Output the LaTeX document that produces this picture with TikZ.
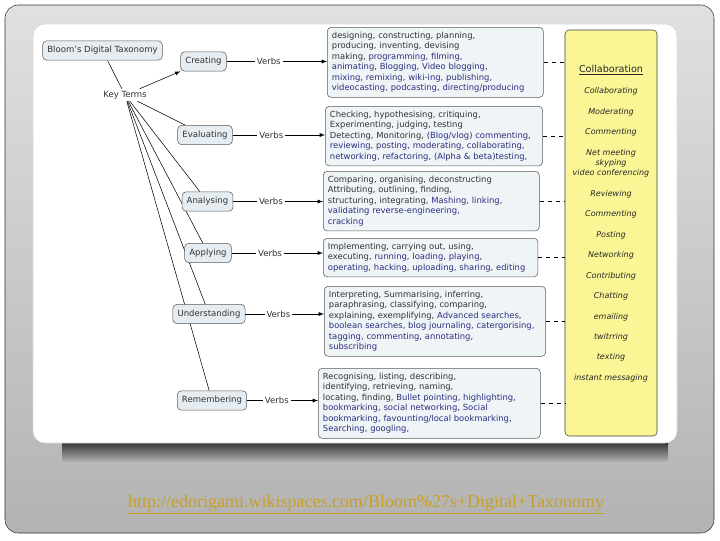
\documentclass[tikz,border=0pt]{standalone}
\usepackage{fontspec}
\setmainfont{DejaVu Sans}
\newfontfamily\urlfont{Liberation Serif}

\definecolor{boxline}{RGB}{90,90,90}
\definecolor{termfill}{RGB}{230,237,242}
\definecolor{verbfill}{RGB}{239,244,247}
\definecolor{darktxt}{RGB}{50,50,50}
\definecolor{bluetxt}{RGB}{45,45,125}
\definecolor{collfill}{RGB}{250,246,150}
\definecolor{linkcol}{RGB}{200,160,40}

\pgfdeclarelayer{back}
\pgfdeclarelayer{links}
\pgfsetlayers{back,links,main}

\newcommand{\blu}[1]{\textcolor{bluetxt}{#1}}

\tikzset{
  term/.style={draw=boxline, fill=termfill, rounded corners=3pt, inner xsep=3.5pt, minimum height=14.5pt, font=\fontsize{6.4pt}{7.5pt}\selectfont, text=darktxt},
  verbbox/.style={draw=boxline, fill=verbfill, rounded corners=3pt, anchor=north west, align=left, inner xsep=3.5pt, inner ysep=3.5pt, font=\fontsize{6.3pt}{7.9pt}\selectfont, text=darktxt},
  lbl/.style={fill=white, inner sep=1.5pt, font=\fontsize{6.4pt}{7.5pt}\selectfont, text=darktxt},
  yitem/.style={font=\fontsize{6pt}{7.5pt}\selectfont\itshape, text=black!85},
}

\begin{document}
\begin{tikzpicture}[x=0.75pt,y=0.75pt,yscale=-1.0,xscale=1.0]
\useasboundingbox (0,0) rectangle (720,540);

% slide and picture panel
\begin{pgfonlayer}{back}
\shade[top color=black!12, bottom color=black!30, draw=black!80, rounded corners=10pt] (5,5) rectangle (714,533);
\shade[top color=black!78, bottom color=black!32] (62,443) rectangle (668,461);
\fill[white, draw=black!15, rounded corners=9pt] (33,24) rectangle (677,443);
\end{pgfonlayer}

% key terms
\node[term] (bdt) at (102.5,50.5) {Bloom's Digital Taxonomy};
\node[lbl, fill=none] (kt) at (125,95) {Key Terms};
\node[term] (cre) at (203.5,61.5) {Creating};
\node[term] (eva) at (205,135) {Evaluating};
\node[term] (ana) at (207.5,201.5) {Analysing};
\node[term] (app) at (208,253) {Applying};
\node[term] (und) at (209,314) {Understanding};
\node[term] (rem) at (212,400.5) {Remembering};

% verbs
\node[verbbox, text width=155pt] (vcre) at (327,27) {designing, constructing, planning,\\
producing, inventing, devising\\
making, \blu{programming, filming,}\\
\blu{animating, Blogging, Video blogging,}\\
\blu{mixing, remixing, wiki-ing, publishing,}\\
\blu{videocasting, podcasting, directing/producing}};
\node[verbbox, text width=156pt] (veva) at (325,106) {Checking, hypothesising, critiquing,\\
Experimenting, judging, testing\\
Detecting, Monitoring, \blu{(Blog/vlog) commenting,}\\
\blu{reviewing, posting, moderating, collaborating,}\\
\blu{networking, refactoring, (Alpha \& beta)testing,}};
\node[verbbox, text width=155pt] (vana) at (323,171) {Comparing, organising, deconstructing\\
Attributing, outlining, finding,\\
structuring, integrating, \blu{Mashing, linking,}\\
\blu{validating reverse-engineering,}\\
\blu{cracking}};
\node[verbbox, text width=154pt] (vapp) at (323,238) {Implementing, carrying out, using,\\
executing, \blu{running, loading, playing,}\\
\blu{operating, hacking, uploading, sharing, editing}};
\node[verbbox, text width=159pt] (vund) at (324,286) {Interpreting, Summarising, inferring,\\
paraphrasing, classifying, comparing,\\
explaining, exemplifying, \blu{Advanced searches,}\\
\blu{boolean searches, blog journaling, catergorising,}\\
\blu{tagging, commenting, annotating,}\\
\blu{subscribing}};
\node[verbbox, text width=159.5pt] (vrem) at (318,368) {Recognising, listing, describing,\\
identifying, retrieving, naming,\\
locating, finding, \blu{Bullet pointing, highlighting,}\\
\blu{bookmarking, social networking, Social}\\
\blu{bookmarking, favounting/local bookmarking,}\\
\blu{Searching, googling,}};

% collaboration column
\node[draw=black!75, fill=collfill, rounded corners=3pt, minimum width=69pt, minimum height=304.5pt] (coll) at (611,233) {};
\node[font=\fontsize{7.2pt}{8pt}\selectfont, text=black!85] (ctitle) at (611,70) {\underline{Collaboration}};
\foreach \yy/\word in {91/Collaborating, 112/Moderating, 132/Commenting, 153/Net meeting, 163/skyping, 173/video conferencing, 194/Reviewing, 214/Commenting, 235/Posting, 255/Networking, 276/Contributing, 296/Chatting, 317/emailing, 337/twitrring, 357/texting, 378/instant messaging}
  \node[yitem] (w\yy) at (611,\yy) {\word};

% connectors
\begin{pgfonlayer}{links}
\draw (bdt) -- (kt);
\draw[-latex] (kt) -- (cre);
\draw (kt) -- (eva);
\draw (kt) -- (ana);
\draw (kt) -- (app);
\draw (kt) -- (und);
\draw (kt) -- (rem);
\end{pgfonlayer}
\foreach \t/\v in {cre/vcre, eva/veva, ana/vana, app/vapp, und/vund, rem/vrem} {
  \draw[-latex] (\t.east) -- node[lbl, pos=0.42] {Verbs} (\t.east -| \v.west);
  \draw[dashed] (\v.east) -- (\v.east -| coll.west);
}

% source
\node[font=\urlfont\fontsize{13.5pt}{15pt}\selectfont, text=linkcol] (src) at (366,505) {\underline{http://edorigami.wikispaces.com/Bloom\%27s+Digital+Taxonomy}};
\end{tikzpicture}
\end{document}
